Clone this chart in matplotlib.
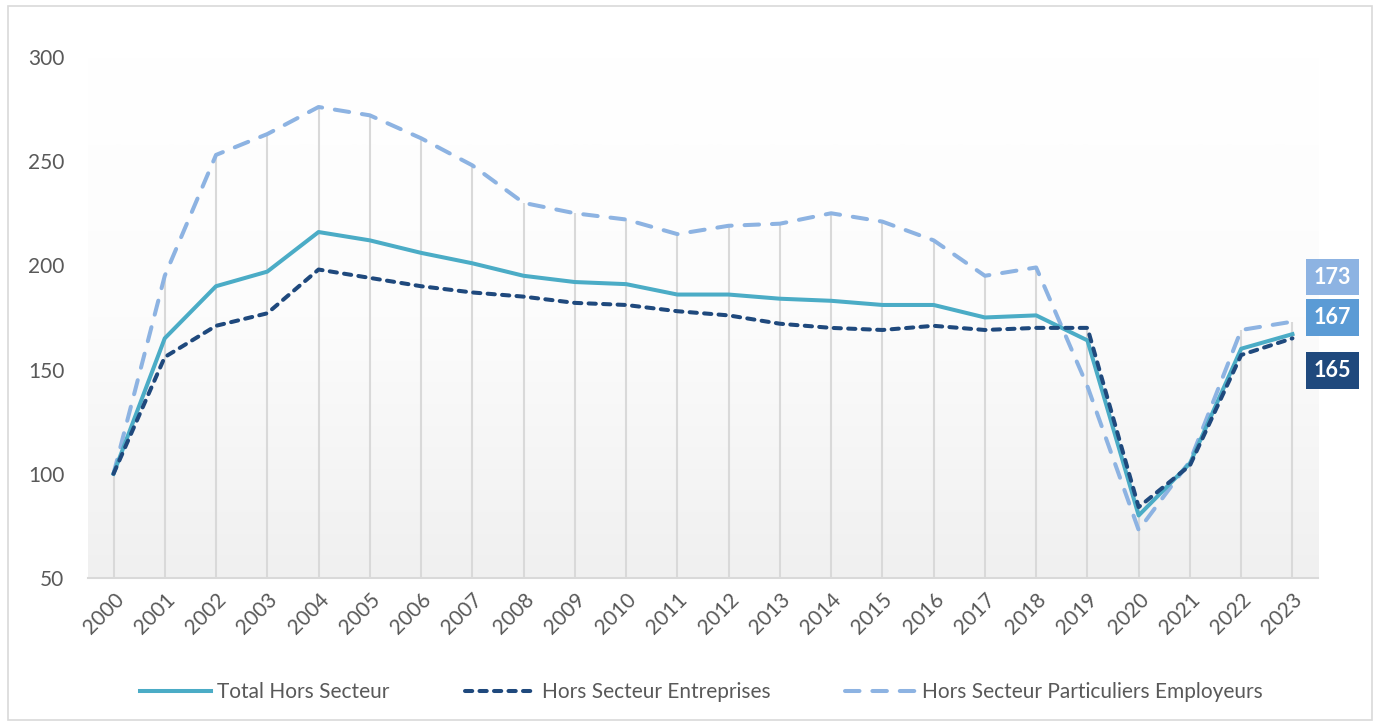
import numpy as np
import matplotlib.pyplot as plt
from matplotlib.colors import LinearSegmentedColormap
from matplotlib.patches import Rectangle

# ---------------- DATA ----------------
years = [str(y) for y in range(2000, 2024)]
total = [100, 165, 190, 197, 216, 212, 206, 201, 195, 192, 191, 186, 186, 184, 183, 181, 181, 175, 176, 164, 80, 105, 160, 167]
entreprises = [100, 156, 171, 177, 198, 194, 190, 187, 185, 182, 181, 178, 176, 172, 170, 169, 171, 169, 170, 170, 84, 104, 157, 165]
particuliers = [100, 195, 253, 263, 276, 272, 261, 248, 230, 225, 222, 215, 219, 220, 225, 221, 212, 195, 199, 142, 73, 106, 169, 173]
labels = ['Total Hors Secteur', 'Hors Secteur Entreprises', 'Hors Secteur Particuliers Employeurs']
# --------------------------------------

TEAL = '#4bacc6'
NAVY = '#1f497d'
LIGHT = '#8db3e2'
MID = '#5b9bd5'
GREY_TXT = '#595959'

plt.rcParams['font.family'] = ['Lato', 'DejaVu Sans']

fig = plt.figure(figsize=(13.73, 7.23), dpi=100)
ax = fig.add_axes([0.064, 0.2006, 0.896, 0.7206])

x = np.arange(len(years))

# gradient background of the plot area
grad = np.linspace(0, 1, 256).reshape(-1, 1)
cmap = LinearSegmentedColormap.from_list('bg', ['#ffffff', '#fcfcfc', '#f0f0f0'])
ax.imshow(grad, aspect='auto', cmap=cmap, extent=(-0.5, 23.5, 50, 300),
          origin='upper', zorder=0)

# drop lines
top = np.max([total, entreprises, particuliers], axis=0)
ax.vlines(x, 50, top, color='#d9d9d9', lw=1.5, zorder=1)

ax.plot(x, total, color=TEAL, lw=2.9, solid_joinstyle='round', zorder=3, label=labels[0])
ax.plot(x, entreprises, color=NAVY, lw=2.9, linestyle=(0, (1.8, 1.8)),
        dash_capstyle='round', zorder=4, label=labels[1])
ax.plot(x, particuliers, color=LIGHT, lw=2.9, linestyle=(0, (3.6, 3.2)),
        dash_capstyle='round', zorder=2, label=labels[2])

ax.set_xlim(-0.5, 23.5)
ax.set_ylim(50, 300)
ax.set_yticks([50, 100, 150, 200, 250, 300])
ax.set_xticks(x)
ax.set_xticklabels(years, rotation=45, ha='right', rotation_mode='anchor')
ax.tick_params(axis='both', length=0, labelsize=15, colors=GREY_TXT)
ax.tick_params(axis='y', pad=17)
ax.tick_params(axis='x', pad=8)
for s in ['top', 'right', 'left']:
    ax.spines[s].set_visible(False)
ax.spines['bottom'].set_color('#d9d9d9')
ax.spines['bottom'].set_linewidth(1.5)

# end labels
ends = [(particuliers[-1], LIGHT, 32), (total[-1], MID, 12), (entreprises[-1], NAVY, -23)]
for val, col, dy in ends:
    ax.annotate(f'{val}', xy=(x[-1], val), xytext=(29, dy), textcoords='offset points',
                ha='center', va='center', fontsize=15.5, fontweight='bold', color='white',
                bbox=dict(boxstyle='square,pad=0.36', fc=col, ec='none'),
                annotation_clip=False, zorder=6)

leg = fig.legend(loc='lower center', bbox_to_anchor=(0.511, 0.003), ncol=3, frameon=False,
                 fontsize=15, handlelength=3.4, columnspacing=3.6, handletextpad=0.3)
for t in leg.get_texts():
    t.set_color(GREY_TXT)

# outer frame
fig.patches.append(Rectangle((0.006, 0.004), 0.993, 0.988, transform=fig.transFigure,
                             fill=False, ec='#d9d9d9', lw=1.2))

fig.savefig('out.png', dpi=100)
